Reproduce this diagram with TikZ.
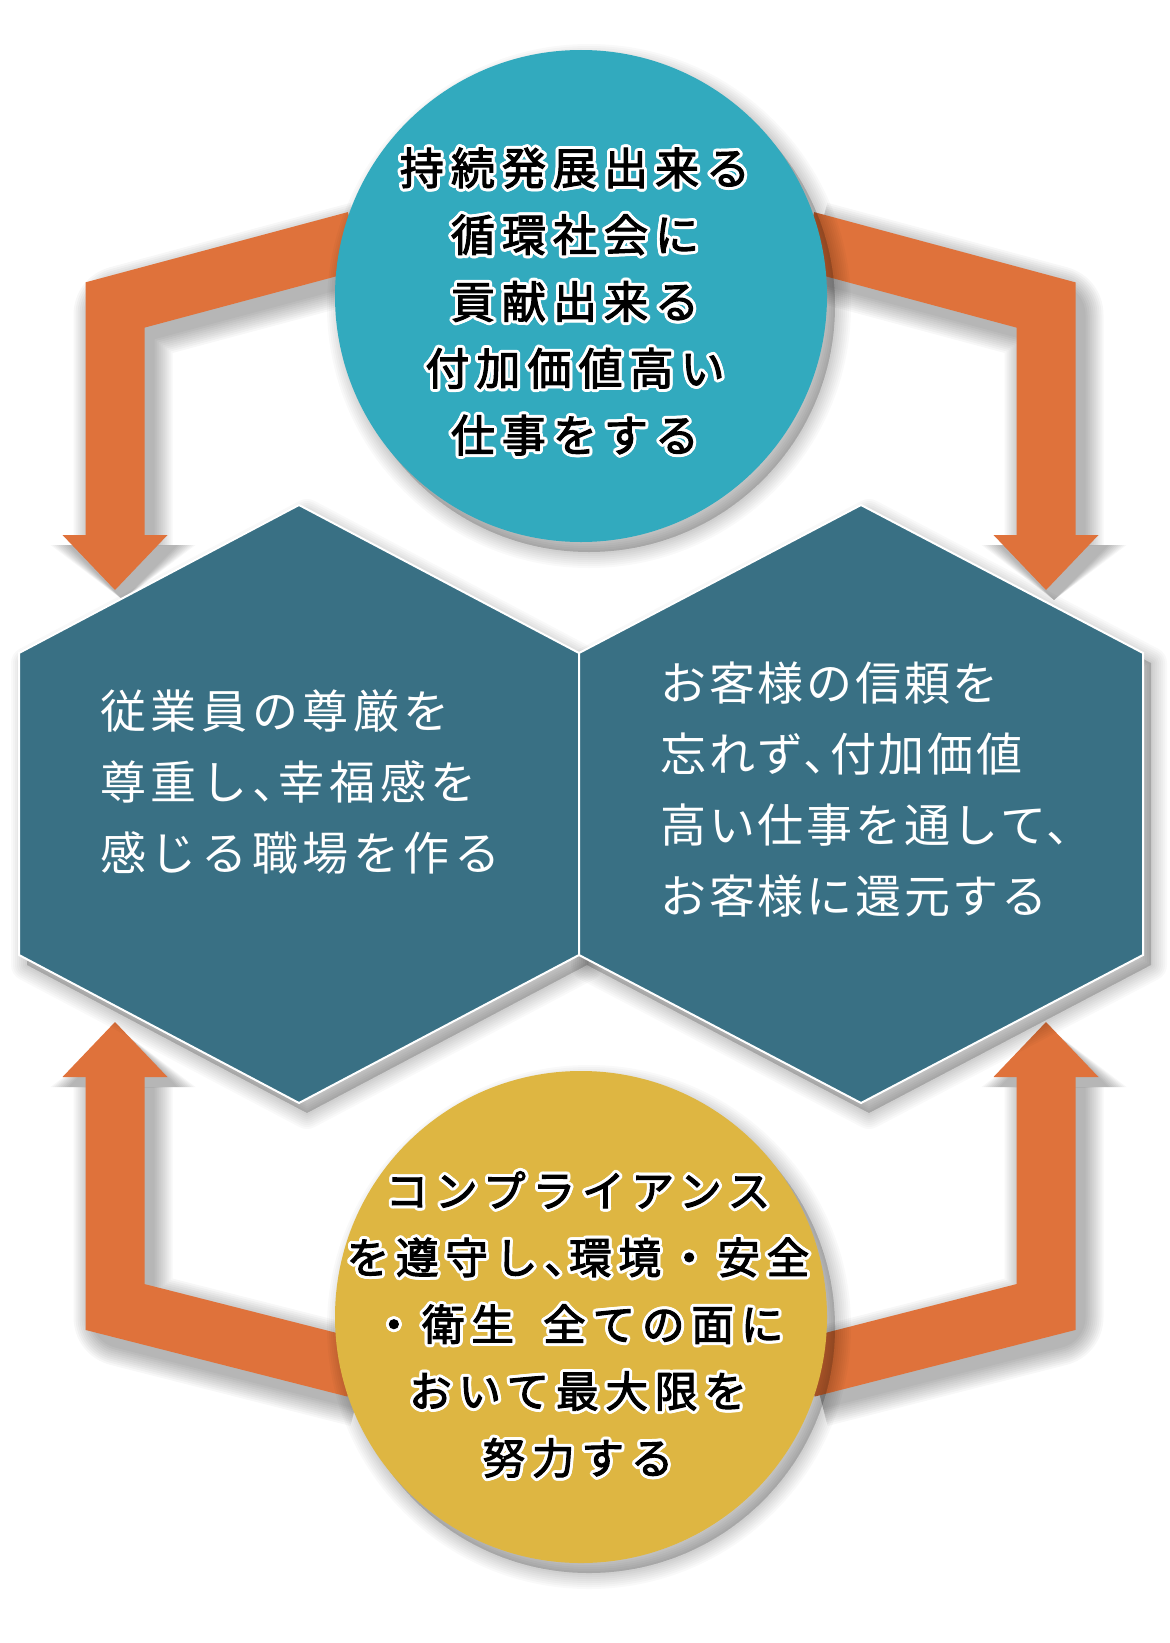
\documentclass[tikz,border=0pt]{standalone}
\usepackage{fontspec}
\usepackage{contour}
\usetikzlibrary{arrows.meta}
\pgfdeclarelayer{paper}
\pgfdeclarelayer{flows}
\pgfsetlayers{paper,flows,main}
\newfontfamily\jpround[LetterSpace=16, FakeBold=2.5]{Noto Sans CJK JP}
\newfontfamily\jpplain[LetterSpace=10]{Noto Sans CJK JP}
\newfontfamily\jpplainR[LetterSpace=6]{Noto Sans CJK JP}
\definecolor{goalTeal}{RGB}{50,170,190}
\definecolor{hexBlue}{RGB}{57,112,132}
\definecolor{flowOrange}{RGB}{223,114,59}
\definecolor{baseGold}{RGB}{222,182,66}
\contourlength{1.5pt}
\newcommand\halo[1]{\contour{white}{#1}}
\newcommand\tenhalf{\kern-.42em}

\begin{document}
\begin{tikzpicture}[
    x=0.5pt, y=-0.5pt,
    ball/.style={%
      circle,
      inner sep=0pt,
      minimum size=246pt,
    },
    flow/.style={%
      draw=flowOrange,
      line width=29.5pt,
      shorten <=-8pt,
      -{Triangle[width=52.5pt, length=27.5pt, line width=0pt]},
    },
    shade/.style={%
      draw=black,
      fill=black,
      opacity=.022,
      line join=round,
    },
    headline/.style={%
      font=\jpround\fontsize{#1}{33.4}\selectfont,
      align=center,
      inner sep=0pt,
    },
    hextext/.style={%
      font=\jpplain\fontsize{23}{35.5}\selectfont,
      text=white,
      align=left,
      anchor=west,
      inner sep=0pt,
    },
  ]

    \useasboundingbox (0,0) rectangle (1170,1643);
    \begin{pgfonlayer}{paper}
      \fill[white] (0,0) rectangle (1170,1643);
    \end{pgfonlayer}

    \coordinate (goalC) at (581,296);
    \coordinate (baseC) at (581,1317);
    \coordinate (hexL) at (299,804);
    \coordinate (hexR) at (861,804);

    % soft shadows under the circles and hexagons
    \begin{scope}[transform canvas={xshift=4pt, yshift=-5pt}]
      \foreach \w in {2,4,...,16} {
        \filldraw[shade, line width=\w pt] (goalC) circle (246);
        \filldraw[shade, line width=\w pt] (baseC) circle (246);
        \filldraw[shade, line width=\w pt] (299,505) -- (579,653) -- (579,955) -- (299,1103) -- (19,955) -- (19,653) -- cycle;
        \filldraw[shade, line width=\w pt] (861,505) -- (1143,653) -- (1143,955) -- (861,1103) -- (579,955) -- (579,653) -- cycle;
      }
    \end{scope}

    \node [ball, fill=goalTeal] (goal) at (goalC) {};
    \node [ball, fill=baseGold] (base) at (baseC) {};
    \filldraw[fill=hexBlue, draw=white, line width=1pt] (299,505) -- (579,653) -- (579,955) -- (299,1103) -- (19,955) -- (19,653) -- cycle;
    \filldraw[fill=hexBlue, draw=white, line width=1pt] (861,505) -- (1143,653) -- (1143,955) -- (861,1103) -- (579,955) -- (579,653) -- cycle;

    \node [headline=22] (goalText) at ([shift={(-6,7)}]goal.center)
      {\halo{持続発展出来る}\\\halo{循環社会に}\\\halo{貢献出来る}\\\halo{付加価値高い}\\\halo{仕事をする}};
    \node [headline=21.3] (baseText) at ([shift={(-3,9)}]base.center)
      {\halo{コンプライアンス}\\\halo{を遵守し、\tenhalf 環境・安全}\\\halo{・衛生\hspace{.3em} 全ての面に}\\\halo{おいて最大限を}\\\halo{努力する}};
    \node [hextext] (leftText) at ([shift={(-199,-22)}]hexL)
      {従業員の尊厳を\\尊重し、\tenhalf 幸福感を\\感じる職場を作る};
    \node [hextext, font=\jpplainR\fontsize{23}{35.5}\selectfont] (rightText) at ([shift={(-201,-14)}]hexR)
      {お客様の信頼を\\忘れず、\tenhalf 付加価値\\高い仕事を通して、\\お客様に還元する};

    \begin{pgfonlayer}{flows}
      \coordinate (tlBend) at (115,305);
      \coordinate (tlTip) at (115,590);
      \coordinate (trBend) at (1046,305);
      \coordinate (trTip) at (1046,590);
      \coordinate (blBend) at (115,1307);
      \coordinate (blTip) at (115,1022);
      \coordinate (brBend) at (1046,1307);
      \coordinate (brTip) at (1046,1022);

      % shadows of the bent arrows
      \begin{scope}[transform canvas={xshift=4pt, yshift=-5pt}]
        \foreach \src/\bend/\dst in {goal.168/tlBend/tlTip, goal.12/trBend/trTip,
                                     base.191/blBend/blTip, base.349/brBend/brTip} {
          \foreach \w [evaluate=\w as \lw using 29.5+\w,
                       evaluate=\w as \tw using 52.5+\w] in {2,4,...,20}
            \draw[shade, fill=none, opacity=.03, line width=\lw pt, shorten <=-8pt,
              -{Triangle[width=\tw pt, length=27.5pt, line width=0pt]}]
              (\src) -- (\bend) -- (\dst);
        }
      \end{scope}

      \draw[flow] (goal.168) -- (tlBend) -- (tlTip);
      \draw[flow] (goal.12) -- (trBend) -- (trTip);
      \draw[flow] (base.191) -- (blBend) -- (blTip);
      \draw[flow] (base.349) -- (brBend) -- (brTip);
    \end{pgfonlayer}
\end{tikzpicture}
\end{document}
